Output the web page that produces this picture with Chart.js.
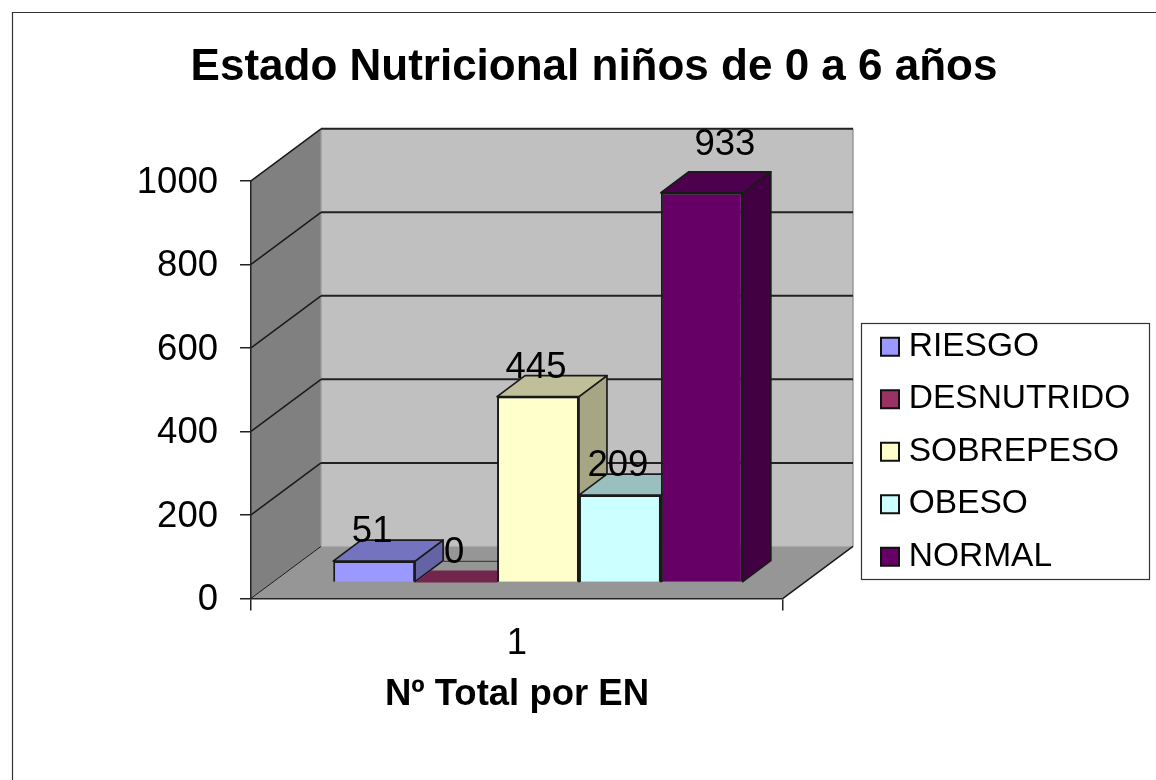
<!DOCTYPE html>
<html><head><meta charset="utf-8">
<style>html,body{margin:0;padding:0;background:#fff}canvas{display:block}</style>
<script src="https://cdn.jsdelivr.net/npm/chart.js@4"></script>
</head><body>
<div style="width:1156px;height:780px"><canvas id="c" width="1156" height="780"></canvas></div>
<script>
const categories = ['1'];
const seriesNames = ['RIESGO','DESNUTRIDO','SOBREPESO','OBESO','NORMAL'];
const riesgo = [51];
const desnutrido = [0];
const sobrepeso = [445];
const obeso = [209];
const normal = [933];
const seriesColors = ['#9999FF','#993366','#FFFFCC','#CCFFFF','#660066'];
const tickValues = [0,200,400,600,800,1000];
const titleText = 'Estado Nutricional niños de 0 a 6 años';
const xTitle = 'Nº Total por EN';
const FONT = '"Liberation Sans", Arial, sans-serif';

const WALL = {dx:70, dy:-52};
const BAR_OFF = {dx:21, dy:-16};
const BAR_DEPTH = {dx:28, dy:-21};
const LEGEND = {l:861, t:323, r:1149, b:579};
const LINE = '#1a1a1a';

function shade(hex,f){
  const n=parseInt(hex.slice(1),16);
  return `rgb(${Math.round((n>>16&255)*f)},${Math.round((n>>8&255)*f)},${Math.round((n&255)*f)})`;
}
function poly(ctx,pts,fill,stroke,w){
  ctx.beginPath();pts.forEach((p,i)=>i?ctx.lineTo(p[0],p[1]):ctx.moveTo(p[0],p[1]));ctx.closePath();
  ctx.fillStyle=fill;ctx.fill();
  if(stroke){ctx.strokeStyle=stroke;ctx.lineWidth=w||1.7;ctx.lineJoin='round';ctx.stroke();}
}
function seg(ctx,a,b,color,w){
  ctx.strokeStyle=color;ctx.lineWidth=w;ctx.beginPath();ctx.moveTo(a[0],a[1]);ctx.lineTo(b[0],b[1]);ctx.stroke();
}
const scene = {
  id:'scene',
  afterLayout(chart){
    const lg=chart.legend;
    lg.left=861;lg.top=311;lg.right=LEGEND.r;lg.bottom=LEGEND.b+60;
    lg.width=lg.right-lg.left;lg.height=lg.bottom-lg.top;
    lg.adjustHitBoxes();
    chart.titleBlock.left=0;chart.titleBlock.right=1188;chart.titleBlock.width=1188;
  },
  beforeDraw(chart){
    const {ctx,chartArea:a,scales:{y}}=chart;
    ctx.save();
    ctx.fillStyle='#fff';ctx.fillRect(0,0,chart.width,chart.height);
    ctx.strokeStyle='#333';ctx.lineWidth=1.2;
    ctx.beginPath();ctx.moveTo(12.5,780);ctx.lineTo(12.5,12.5);ctx.lineTo(1156,12.5);ctx.stroke();
    const b=y.getPixelForValue(0),t=y.getPixelForValue(1000),L=a.left,R=a.right;
    const dx=WALL.dx,dy=WALL.dy;
    poly(ctx,[[L+dx,t+dy],[R+dx,t+dy],[R+dx,b+dy],[L+dx,b+dy]],'#C0C0C0');
    poly(ctx,[[L,t],[L+dx,t+dy],[L+dx,b+dy],[L,b]],'#808080');
    poly(ctx,[[L,b],[L+dx,b+dy],[R+dx,b+dy],[R,b]],'#969696');
    seg(ctx,[L+dx,t+dy],[L+dx,b+dy],'#999',1.2);
    seg(ctx,[R+dx,t+dy],[R+dx,b+dy],'#888',1.2);
    seg(ctx,[L+dx,b+dy],[R+dx,b+dy],'#aaa',1);
    tickValues.forEach(v=>{
      const p=y.getPixelForValue(v);
      seg(ctx,[L,p],[L+dx,p+dy],LINE,v===0?1:1.5);
      if(v>0) seg(ctx,[L+dx,p+dy],[R+dx,p+dy],'#222',2);
    });
    seg(ctx,[R,b],[R+dx,b+dy],LINE,1.5);
    ctx.fillStyle='#fff';
    ctx.fillRect(LEGEND.l,LEGEND.t,LEGEND.r-LEGEND.l,LEGEND.b-LEGEND.t);
    ctx.strokeStyle='#333';ctx.lineWidth=1.2;
    ctx.strokeRect(LEGEND.l+.5,LEGEND.t+.5,LEGEND.r-LEGEND.l,LEGEND.b-LEGEND.t);
    ctx.restore();
  },
  beforeDatasetsDraw(chart){
    // Painter's order: first series first, so each later bar covers the earlier side face.
    const ctx=chart.ctx;
    chart.data.datasets.forEach((ds,i)=>{
      const meta=chart.getDatasetMeta(i),el=meta.data[0],col=seriesColors[i];
      ctx.save();
      ctx.translate(BAR_OFF.dx,BAR_OFF.dy);
      const l=el.x-el.width/2,r=el.x+el.width/2,t=el.y,b=el.base,dx=BAR_DEPTH.dx,dy=BAR_DEPTH.dy;
      if(Math.abs(t-b)<1){
        const f=.57;
        seg(ctx,[l+dx,t+dy],[r+dx,t+dy],'#444',1.2);
        poly(ctx,[[l,t],[l+dx*f,t+dy*f],[r+dx*f,t+dy*f],[r,t]],shade(col,.75));
      } else {
        poly(ctx,[[r,t],[r+dx,t+dy],[r+dx,b+dy],[r,b]],shade(col,.65),LINE);
        poly(ctx,[[l,t],[l+dx,t+dy],[r+dx,t+dy],[r,t]],shade(col,.75),LINE);
        meta.controller.draw();
      }
      ctx.restore();
    });
  },
  beforeDatasetDraw(){return false;},
  afterDatasetsDraw(chart){
    const ctx=chart.ctx;
    ctx.save();
    ctx.font='36.5px '+FONT;ctx.fillStyle='#000';ctx.textAlign='center';ctx.textBaseline='middle';
    chart.data.datasets.forEach((ds,i)=>{
      const el=chart.getDatasetMeta(i).data[0];
      const shift=i===4?[25,-19]:[0,0];
      ctx.fillText(String(ds.data[0]),el.x+BAR_OFF.dx-2+shift[0],el.y+BAR_OFF.dy-29+shift[1]);
    });
    ctx.restore();
  },
  afterDraw(chart){
    const ctx=chart.ctx;
    ctx.save();
    chart.legend.legendHitBoxes.forEach((h,i)=>{
      const cy=h.top+h.height/2;
      ctx.fillStyle=seriesColors[i];ctx.strokeStyle='#111';ctx.lineWidth=2;
      ctx.fillRect(881,cy-9,18,18);ctx.strokeRect(881,cy-9,18,18);
    });
    ctx.restore();
  }
};
const arrays=[riesgo,desnutrido,sobrepeso,obeso,normal];
new Chart(document.getElementById('c'),{
  type:'bar',
  data:{labels:categories,datasets:seriesNames.map((n,i)=>({
    label:n,data:arrays[i],backgroundColor:seriesColors[i],borderColor:LINE,borderWidth:2,
    categoryPercentage:.77,barPercentage:1
  }))},
  options:{
    responsive:false,animation:false,
    layout:{padding:{left:0,right:373,top:0,bottom:23}},
    plugins:{
      tooltip:{enabled:false},
      legend:{position:'chartArea',align:'start',
        labels:{color:'#000',font:{family:FONT,size:33.5},boxWidth:12,boxHeight:19,padding:19,
          generateLabels(chart){return chart.data.datasets.map((d,i)=>({text:d.label,fillStyle:'rgba(0,0,0,0)',strokeStyle:'rgba(0,0,0,0)',lineWidth:0,datasetIndex:i,fontColor:'#000'}));}
        }},
      title:{display:true,text:titleText,color:'#000',font:{family:FONT,size:44,weight:'bold'},padding:{top:41,bottom:87}}
    },
    scales:{
      x:{offset:true,
        grid:{drawOnChartArea:false,offset:true,tickLength:12,color:'#222',lineWidth:1.5},
        border:{color:'#222',width:1.5},
        ticks:{color:'#000',font:{family:FONT,size:36.5},padding:12},
        title:{display:true,text:xTitle,color:'#000',font:{family:FONT,size:36.5,weight:'bold'},padding:{top:-5,bottom:40}}
      },
      y:{min:0,max:1000,afterBuildTicks(s){s.ticks=tickValues.map(v=>({value:v}));},
        grid:{drawOnChartArea:false,tickLength:11,color:'#222',lineWidth:1.5},
        border:{color:'#222',width:1.5},
        ticks:{color:'#000',font:{family:FONT,size:36.5},padding:22,labelOffset:2,callback(v){return String(v);}},
        afterFit(s){s.width=251;}
      }
    }
  },
  plugins:[scene]
});
</script>
</body></html>
